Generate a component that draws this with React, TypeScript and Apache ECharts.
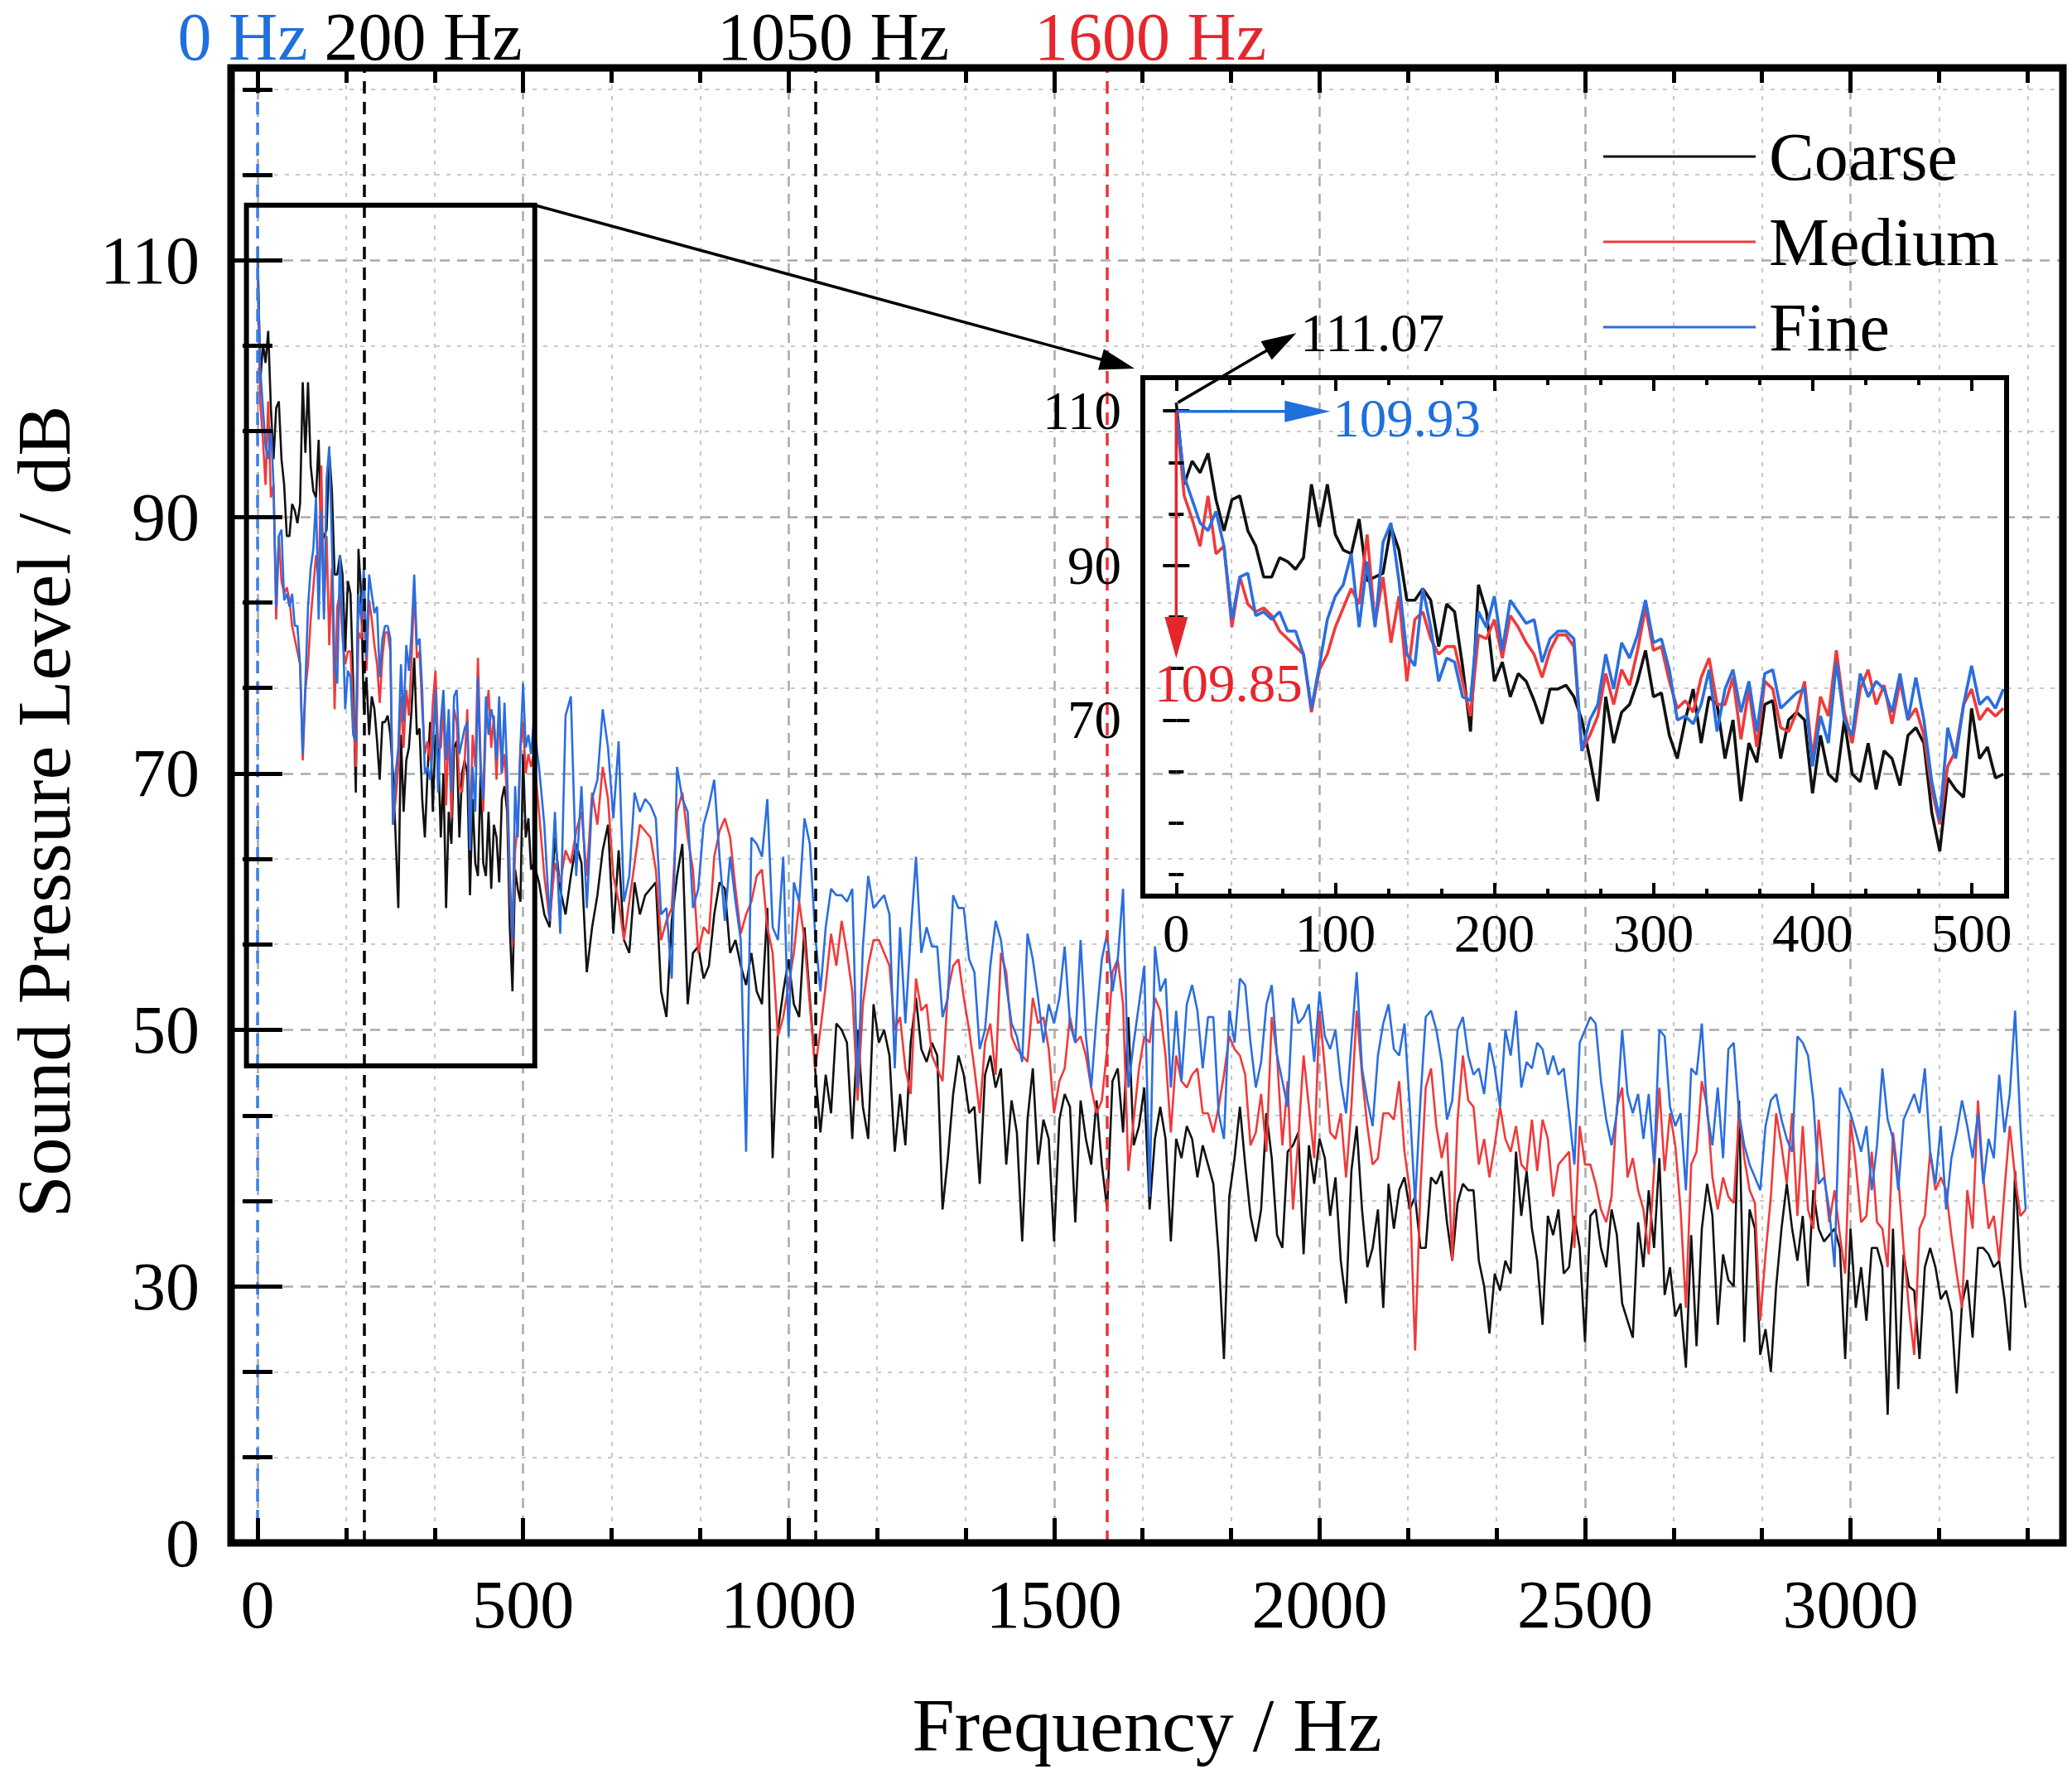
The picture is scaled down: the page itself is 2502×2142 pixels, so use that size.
import React, { useEffect, useRef } from 'react';
import * as echarts from 'echarts';

// 畫布尺寸與字體
const W = 2502;
const H = 2142;
const FONT = 'Liberation Serif';

// 頻率取樣網格：0–520 Hz 每 5 Hz（放大圖），530–3330 Hz 每 10 Hz
const lowStartHz = 0;
const lowStepHz = 5;
const highStartHz = 530;
const highStepHz = 10;

// Coarse 網格，0–520 Hz
const coarseLow = [
  111.07, 100.5, 103.5, 102.0, 104.5, 98.5, 94.5, 98.5, 99.0, 94.5,
  92.5, 88.5, 88.5, 91.0, 90.5, 89.5, 91.0, 100.5, 95.0, 100.5,
  94.0, 92.0, 91.5, 96.0, 88.0, 88.5, 89.0, 95.0, 92.0, 85.5,
  85.5, 87.0, 85.5, 79.5, 85.0, 84.0, 77.0, 68.5, 87.5, 84.0,
  75.0, 77.5, 73.0, 76.0, 75.0, 72.5, 69.5, 74.0, 74.0, 74.5,
  73.0, 70.0, 65.0, 59.5, 73.0, 67.0, 71.0, 72.0, 75.0, 79.0,
  73.0, 73.5, 68.0, 65.0, 70.0, 74.0, 67.0, 73.0, 72.0, 65.0,
  70.0, 59.5, 67.0, 64.5, 72.0, 72.5, 65.0, 70.0, 71.0, 70.0,
  60.5, 68.0, 63.0, 62.0, 70.0, 63.0, 62.0, 67.0, 61.0, 66.0,
  65.0, 61.5, 68.0, 69.0, 67.0, 58.0, 53.0, 62.5, 61.0, 60.0,
  71.5, 65.0, 66.5, 62.5, 63.0,
];
// Medium 網格，0–520 Hz
const mediumLow = [
  109.85, 99.0, 96.0, 92.5, 99.0, 91.5, 92.5, 82.0, 88.5, 85.0,
  84.0, 84.5, 83.5, 81.5, 80.5, 79.5, 78.5, 71.0, 76.5, 78.5,
  82.0, 84.5, 87.0, 85.0, 94.0, 82.5, 88.5, 80.0, 86.0, 75.0,
  83.0, 84.0, 80.5, 78.5, 79.5, 79.5, 75.0, 70.5, 81.0, 80.5,
  83.0, 78.0, 83.5, 82.0, 80.0, 78.5, 75.5, 79.0, 81.0, 81.0,
  79.5, 66.0, 68.0, 70.5, 76.0, 72.0, 76.5, 74.5, 79.0, 84.5,
  79.0, 79.5, 75.0, 71.5, 72.5, 71.0, 75.5, 78.0, 72.0, 72.0,
  75.5, 67.5, 74.0, 66.5, 75.0, 74.0, 69.0, 68.5, 71.0, 75.0,
  65.0, 73.0, 70.5, 79.0, 71.0, 67.0, 74.0, 76.5, 72.0, 74.5,
  69.5, 75.0, 70.0, 71.5, 68.0, 61.0, 56.5, 64.0, 66.0, 72.0,
  74.0, 70.0, 71.5, 70.5, 71.5,
];
// Fine 網格，0–520 Hz
const fineLow = [
  109.93, 101.5, 98.5, 95.5, 94.5, 97.0, 92.5, 83.0, 88.5, 89.0,
  83.5, 84.0, 83.0, 84.0, 81.5, 81.5, 78.5, 71.5, 77.0, 83.0,
  86.0, 87.5, 91.5, 82.0, 90.5, 82.0, 93.0, 95.5, 88.0, 78.5,
  77.0, 87.0, 82.0, 75.0, 78.0, 77.5, 73.0, 72.5, 84.0, 82.0,
  86.0, 79.0, 85.5, 84.0, 82.5, 83.0, 77.5, 80.5, 81.5, 81.5,
  80.5, 66.0, 70.0, 72.0, 78.5, 74.0, 80.0, 78.0, 81.0, 85.5,
  80.0, 80.5, 76.5, 70.0, 70.5, 69.5, 72.0, 76.5, 68.5, 74.0,
  76.5, 71.0, 75.0, 68.5, 76.0, 76.5, 71.5, 72.5, 73.5, 74.0,
  64.0, 70.5, 67.0, 77.5, 70.0, 68.0, 76.0, 73.0, 75.0, 74.0,
  71.0, 76.0, 70.0, 75.5, 70.0, 62.0, 57.0, 69.0, 65.0, 72.0,
  77.0, 72.0, 73.0, 71.5, 74.0,
];

// Coarse 網格，530–3330 Hz
const coarseHigh = [
  61.5, 59, 58, 65, 61, 59, 62, 64.5, 63, 54.5,
  58, 60.5, 64, 66, 57.5, 64, 57, 56, 61.5, 59,
  60.5, 61, 61.5, 53, 51, 58.5, 62, 64.5, 52, 56,
  56.5, 54, 55, 59, 61.5, 61, 56, 57, 55, 53.5,
  56, 53, 52, 59.5, 40, 50, 53, 55.5, 52, 51,
  58, 52.5, 47, 42, 46.5, 43.5, 50.5, 50, 49, 41.5,
  50, 44, 41.5, 52, 49, 50, 48, 40.5, 45, 41,
  49, 52.5, 48.5, 47.5, 49, 48, 36, 40, 45, 48,
  46.5, 43.5, 44, 38, 46.5, 48, 45.5, 47, 39.5, 44.5,
  42, 33.5, 43, 47, 39.5, 43, 41.5, 33.5, 43, 45,
  44, 35, 44.5, 41.5, 39.5, 44.5, 39.5, 36, 46, 47,
  42, 51, 41, 42.5, 45.5, 36, 41.5, 44, 41.5, 33.5,
  41.5, 40, 42.5, 41.5, 38.5, 41, 39.5, 38, 32.5, 21.5,
  37, 40, 44, 39.5, 35.5, 33.5, 36, 43.5, 40, 34,
  33, 40.5, 41, 42, 32.5, 41, 38, 41.5, 40, 35.5,
  38.5, 32, 28, 39, 42.5, 36, 31.5, 33, 36, 27.5,
  38, 34.5, 37.5, 38.5, 36, 37, 33, 33, 38.5, 38,
  39, 35, 32, 36.5, 38, 37.5, 37.5, 32, 30, 24.5,
  31, 29.5, 32, 31, 40.5, 35.5, 39, 34.5, 32, 25.5,
  35.5, 34, 36, 31, 31.5, 35.5, 33, 23.5, 35.5, 36,
  33, 31.5, 36, 34, 28, 26, 24, 35, 31.5, 37.5,
  33, 40, 29, 31.5, 26.5, 28, 20.5, 34, 23, 34.5,
  38, 35.5, 25.5, 32.5, 30.5, 30, 44.5, 23.5, 36, 34.5,
  22, 25, 20, 30, 34.5, 38, 34.5, 32, 35.5, 30,
  37.5, 34.5, 33.5, 34, 34.5, 33, 21.5, 34.5, 27.5, 31.5,
  26, 33, 33, 31.5, 15, 34.5, 18, 32.5, 30, 29.5,
  21.5, 31.5, 33, 31.5, 28.5, 29.5, 27, 17.5, 28, 30.5,
  24, 33, 33, 32.5, 31.5, 32, 28.5, 22.5, 39, 31.5,
  27.5,
];
// Medium 網格，530–3330 Hz
const mediumHigh = [
  67, 62, 58.5, 63, 61.5, 64, 63, 65.5, 67, 62,
  68.5, 66, 70.5, 68, 62, 60, 57, 60, 63, 66,
  65.5, 65, 62.5, 57, 58.5, 59.5, 67, 68.5, 65, 62.5,
  56, 58, 57.5, 63.5, 65.5, 66.5, 65, 61, 57.5, 59,
  60, 62, 62.5, 58, 56, 49.5, 51, 53.5, 56, 60,
  57, 52, 47, 50, 53.5, 57.5, 55, 58.5, 56, 53,
  44.5, 52, 55, 57, 57, 56, 55, 50, 51, 47,
  45, 54, 51.5, 52, 48, 47, 46, 53, 55, 55.5,
  52.5, 50, 47, 43.5, 49, 50.5, 46.5, 56, 54.5, 49.5,
  48.5, 48, 47.5, 52.5, 50.5, 51, 48.5, 43.5, 46, 47,
  51, 49, 49.5, 48, 45.5, 43.5, 44.5, 48.5, 54.5, 55.5,
  52, 39, 43, 47, 49.5, 49, 52.5, 51.5, 48, 42,
  48, 46, 45.5, 46.5, 47, 43.5, 43.5, 42, 44, 46.5,
  49.5, 48.5, 48, 46.5, 41, 42, 45, 40.5, 51, 48,
  41, 46, 36, 41.5, 48, 44, 40, 51.5, 47, 42,
  41.5, 43.5, 38.5, 44, 51.5, 46.5, 42.5, 39.5, 40, 43.5,
  43.5, 43, 46, 40.5, 37.5, 22.5, 37.5, 45.5, 47, 42.5,
  40, 42, 32, 43, 48, 44.5, 44, 39.5, 41.5, 38.5,
  41, 44, 41.5, 40.5, 42.5, 39.5, 39, 43, 39, 43,
  41.5, 37, 39.5, 40, 40.5, 33, 42.5, 39.5, 39.5, 38,
  36, 35, 37, 44, 45.5, 38.5, 40, 37.5, 36, 32.5,
  39, 45.5, 39, 43.5, 41, 36, 27.5, 39.5, 40.5, 46,
  44, 38.5, 36, 38.5, 37, 36.5, 43.5, 40, 37.5, 36.5,
  26, 32.5, 37, 43.5, 41, 38, 43.5, 35.5, 42.5, 36,
  34.5, 43, 39, 35, 37.5, 34, 31, 43, 39.5, 35,
  35.5, 40.5, 35, 34.5, 31.5, 42, 38.5, 33, 27.5, 22,
  34.5, 35.5, 40.5, 37.5, 38.5, 37.5, 34, 31, 27.5, 37.5,
  34.5, 44.5, 38.5, 34.5, 35.5, 32, 37.5, 42.5, 38.5, 35.5,
  36,
];
// Fine 網格，530–3330 Hz
const fineHigh = [
  70.5, 66, 58.5, 67, 57.5, 74.5, 76, 62, 69, 59.5,
  68, 69.5, 75, 72, 66.5, 72.5, 60, 62, 68.5, 67,
  68, 67.5, 66.5, 59, 59.5, 54, 70.5, 68, 67, 59.5,
  61, 66, 67.5, 69.5, 63.5, 58.5, 63.5, 60, 57, 40.5,
  65, 64.5, 63.5, 68, 58, 57, 63.5, 49.5, 61.5, 60,
  66.5, 64.5, 57.5, 53, 58, 61, 60.5, 60.5, 60, 61,
  45.5, 56.5, 62, 59.5, 60, 60.5, 59, 47, 58, 50.5,
  57.5, 63.5, 56, 58, 56.5, 56.5, 51, 52.5, 60.5, 59.5,
  59.5, 55.5, 54.5, 48.5, 50, 55, 58.5, 57, 53.5, 50.5,
  49.5, 47.5, 57.5, 55.5, 52.5, 49, 52, 50.5, 52.5, 56.5,
  50.5, 49, 57, 49.5, 45.5, 51, 55.5, 57.5, 53, 55.5,
  61, 45.5, 49, 52, 55, 37, 56.5, 53, 54, 45.5,
  51.5, 46, 52, 53.5, 51.5, 47, 51, 51, 43.5, 41.5,
  51.5, 49, 54, 53.5, 49, 45.5, 47.5, 52, 53.5, 48,
  46, 44, 52.5, 50.5, 51, 52, 47.5, 53, 49.5, 48.5,
  50, 46, 43.5, 49, 54.5, 47, 44.5, 42.5, 48, 50.5,
  52, 48.5, 48, 50.5, 44, 36.5, 44.5, 51, 51.5, 50,
  47.5, 43, 44.5, 50, 51, 48, 46.5, 47, 45, 49,
  47, 44, 50, 48, 51.5, 45.5, 47.5, 47, 49, 48.5,
  46.5, 48, 46.5, 47, 43.5, 39.5, 49, 50, 51, 50.5,
  46, 43, 41, 43.5, 50, 45, 43.5, 45, 41.5, 45,
  39.5, 50, 49.5, 44, 42.5, 43.5, 37.5, 47, 46.5, 50.5,
  43.5, 41, 45.5, 40, 48.5, 49, 43.5, 41, 39.5, 38.5,
  37.5, 42.5, 44.5, 45, 43, 41.5, 40.5, 49.5, 49, 48,
  44.5, 38, 38.5, 36, 31.5, 45.5, 44.5, 43.5, 42, 40.5,
  42.5, 37.5, 41, 47, 43, 41.5, 37.5, 43, 44, 45,
  43.5, 47, 40.5, 38, 42.5, 36, 40, 42, 44.5, 42.5,
  40, 43.5, 38, 41.5, 40, 46.5, 42, 45, 51.5, 42.5,
  36,
];

const seriesNames = ['Coarse', 'Medium', 'Fine'];
const seriesColors = ['#111111', '#f03a3a', '#2a6ee0'];

// 主圖刻度
const xMajorTicks = [0, 500, 1000, 1500, 2000, 2500, 3000];
const xMinorTicks = [166.67, 333.33, 666.67, 833.33, 1166.67, 1333.33, 1666.67, 1833.33, 2166.67, 2333.33, 2666.67, 2833.33, 3166.67, 3333.33];
// y 軸在 30 dB 以下壓縮，刻度以軸座標表示
const yMajorTicks = [10, 30, 50, 70, 90, 110];
const yMajorLabels = ['0', '30', '50', '70', '90', '110'];
const yMinorTicks = [16.67, 23.33, 36.67, 43.33, 56.67, 63.33, 76.67, 83.33, 96.67, 103.33, 116.67, 123.33];

// 放大圖刻度
const insetXMajor = [0, 100, 200, 300, 400, 500];
const insetXMinor = [33.33, 66.67, 133.33, 166.67, 233.33, 266.67, 333.33, 366.67, 433.33, 466.67];
const insetYMajor = [70, 90, 110];
const insetYMinor = [50, 56.67, 63.33, 76.67, 83.33, 96.67, 103.33];

// 參考頻率
const refLines = [
  { hz: 0, label: '0 Hz', color: '#3b7fe6', textColor: '#1f6fdc', labelX: 293 },
  { hz: 200, label: '200 Hz', color: '#000000', textColor: '#000000', labelX: 511 },
  { hz: 1050, label: '1050 Hz', color: '#000000', textColor: '#000000', labelX: 1006 },
  { hz: 1600, label: '1600 Hz', color: '#e8323a', textColor: '#e5262d', labelX: 1389 },
];

// 峰值標註
const peakCoarse = 111.07;
const peakMedium = 109.85;
const peakFine = 109.93;

// 版面
const mainGrid = { left: 279, top: 82, width: 2212, height: 1781 };
const mainX = [-50, 3400];
const mainY = [10, 125];
const insetGrid = { left: 1380, top: 456, width: 1043, height: 626 };
const insetX = [-21, 522];
const insetY = [47.2, 114.3];

// 30 dB 以下的壓縮段：0–30 dB 佔 20 個軸單位
const toAxis = (db: number) => (db >= 30 ? db : 30 - ((30 - db) * 2) / 3);

const lowHz = coarseLow.map((_, i) => lowStartHz + i * lowStepHz);
const highHz = coarseHigh.map((_, i) => highStartHz + i * highStepHz);

function pairs(hz: number[], values: number[], map: (v: number) => number = (v) => v) {
  return values.map((v, i) => [hz[i], map(v)]);
}

function tickAxis(
  gridIndex: number,
  range: number[],
  position: string,
  ticks: number[],
  length: number,
  width: number,
  label?: any,
) {
  return {
    type: 'value',
    gridIndex,
    min: range[0],
    max: range[1],
    position,
    z: 6,
    axisLine: { show: false },
    splitLine: { show: false },
    axisTick: {
      show: true,
      inside: true,
      length,
      customValues: ticks,
      lineStyle: { color: '#000', width },
    },
    axisLabel: label
      ? {
          show: true,
          customValues: ticks,
          color: '#000',
          fontFamily: FONT,
          formatter: (v: number) => String(v),
          ...label,
        }
      : { show: false },
  };
}

function buildOption(): echarts.EChartsOption {
  const lowSets = [coarseLow, mediumLow, fineLow];
  const highSets = [coarseHigh, mediumHigh, fineHigh];

  const majorGrid = { color: '#a9a9a9', width: 2.5, type: [12, 9] };
  const minorGrid = { color: '#c9c9c9', width: 2.2, type: [5, 8] };

  const gridLines = [
    ...xMajorTicks.map((v) => ({ xAxis: v, lineStyle: majorGrid })),
    ...xMinorTicks.map((v) => ({ xAxis: v, lineStyle: minorGrid })),
    ...yMajorTicks.slice(1).map((v) => ({ yAxis: v, lineStyle: majorGrid })),
    ...yMinorTicks.map((v) => ({ yAxis: v, lineStyle: minorGrid })),
  ];

  const mainSeries = seriesNames.map((name, k) => ({
    name,
    type: 'line',
    xAxisIndex: 0,
    yAxisIndex: 0,
    symbol: 'none',
    showSymbol: false,
    z: 2,
    lineStyle: { color: seriesColors[k], width: 2.6 },
    itemStyle: { color: seriesColors[k] },
    data: [...pairs(lowHz, lowSets[k], toAxis), ...pairs(highHz, highSets[k], toAxis)],
  }));

  const insetSeries = seriesNames.map((name, k) => ({
    name,
    type: 'line',
    xAxisIndex: 4,
    yAxisIndex: 4,
    symbol: 'none',
    showSymbol: false,
    z: 4,
    lineStyle: { color: seriesColors[k], width: 3.6 },
    itemStyle: { color: seriesColors[k] },
    data: pairs(lowHz, lowSets[k]),
  }));

  return {
    animation: false,
    backgroundColor: '#ffffff',
    textStyle: { fontFamily: FONT },
    grid: [
      { ...mainGrid, show: false },
      { ...insetGrid, show: false },
    ],
    xAxis: [
      tickAxis(0, mainX, 'bottom', xMajorTicks, 30, 5, { fontSize: 82, margin: 33 }),
      tickAxis(0, mainX, 'bottom', xMinorTicks, 18, 5),
      tickAxis(0, mainX, 'top', xMajorTicks, 30, 5),
      tickAxis(0, mainX, 'top', xMinorTicks, 18, 5),
      tickAxis(1, insetX, 'bottom', insetXMajor, 16, 4, { fontSize: 65, margin: 12 }),
      tickAxis(1, insetX, 'bottom', insetXMinor, 9, 4),
      tickAxis(1, insetX, 'top', insetXMajor, 16, 4),
      tickAxis(1, insetX, 'top', insetXMinor, 9, 4),
    ] as any,
    yAxis: [
      tickAxis(0, mainY, 'left', yMajorTicks, 30, 5, {
        fontSize: 82,
        margin: 38,
        formatter: (v: number) => yMajorLabels[yMajorTicks.indexOf(v)] ?? '',
      }),
      tickAxis(0, mainY, 'left', yMinorTicks, 18, 5),
      tickAxis(0, mainY, 'right', yMajorTicks, 30, 5),
      tickAxis(0, mainY, 'right', yMinorTicks, 18, 5),
      tickAxis(1, insetY, 'left', insetYMajor, 16, 4, { fontSize: 65, margin: 26 }),
      tickAxis(1, insetY, 'left', insetYMinor, 9, 4),
      tickAxis(1, insetY, 'right', insetYMajor, 16, 4),
      tickAxis(1, insetY, 'right', insetYMinor, 9, 4),
    ] as any,
    legend: {
      data: seriesNames,
      orient: 'vertical',
      left: 1931,
      top: 139,
      icon: 'rect',
      itemWidth: 184,
      itemHeight: 3,
      itemGap: 13,
      z: 10,
      textStyle: {
        fontSize: 82,
        fontFamily: FONT,
        color: '#000',
        lineHeight: 90,
        padding: [0, 0, 0, 11],
      },
    },
    series: [
      {
        name: 'gridlines',
        type: 'line',
        xAxisIndex: 0,
        yAxisIndex: 0,
        data: [],
        markLine: {
          silent: true,
          z: 1,
          symbol: ['none', 'none'],
          label: { show: false },
          animation: false,
          data: gridLines as any,
        },
      },
      ...mainSeries,
      {
        name: 'reflines',
        type: 'line',
        xAxisIndex: 0,
        yAxisIndex: 0,
        data: [],
        markLine: {
          silent: true,
          z: 3,
          symbol: ['none', 'none'],
          label: { show: false },
          animation: false,
          data: refLines.map((r) => ({
            xAxis: r.hz,
            lineStyle: { color: r.color, width: 3.5, type: [15, 10] },
          })) as any,
        },
      },
      ...insetSeries,
    ] as any,
  };
}

function arrow(
  x1: number,
  y1: number,
  x2: number,
  y2: number,
  color: string,
  lineWidth: number,
  headLen: number,
  headHalf: number,
) {
  const dx = x2 - x1;
  const dy = y2 - y1;
  const len = Math.hypot(dx, dy);
  const ux = dx / len;
  const uy = dy / len;
  const bx = x2 - ux * headLen;
  const by = y2 - uy * headLen;
  const px = -uy;
  const py = ux;
  return [
    { type: 'line', z: 12, shape: { x1, y1, x2: bx + ux * 2, y2: by + uy * 2 }, style: { stroke: color, lineWidth } },
    {
      type: 'polygon',
      z: 12,
      shape: {
        points: [
          [x2, y2],
          [bx + px * headHalf, by + py * headHalf],
          [bx - px * headHalf, by - py * headHalf],
        ],
      },
      style: { fill: color },
    },
  ];
}

function text(str: string, x: number, y: number, size: number, color: string, align = 'center', extra: any = {}) {
  return {
    type: 'text',
    z: 12,
    x,
    y,
    ...extra,
    style: {
      text: str,
      fill: color,
      font: `${size}px "${FONT}"`,
      textAlign: align,
      textVerticalAlign: 'middle',
      lineHeight: Math.round(size * 0.92),
    },
  };
}

function buildGraphics(chart: echarts.ECharts) {
  const main = (p: number[]) => chart.convertToPixel({ xAxisIndex: 0, yAxisIndex: 0 }, p) as number[];
  const inset = (p: number[]) => chart.convertToPixel({ xAxisIndex: 4, yAxisIndex: 4 }, p) as number[];

  // 主圖中的放大框
  const r1 = main([insetX[0], toAxis(insetY[1])]);
  const r2 = main([insetX[1], toAxis(insetY[0])]);
  const insetCorner = inset([insetX[0], insetY[1]]);

  const pc = inset([0, peakCoarse]);
  const pf = inset([0, peakFine]);
  const pm = inset([0, peakMedium]);

  const els: any[] = [
    {
      type: 'rect',
      z: 11,
      shape: { x: mainGrid.left, y: mainGrid.top, width: mainGrid.width, height: mainGrid.height },
      style: { fill: 'none', stroke: '#000', lineWidth: 9 },
    },
    {
      type: 'rect',
      z: 11,
      shape: { x: insetGrid.left, y: insetGrid.top, width: insetGrid.width, height: insetGrid.height },
      style: { fill: 'none', stroke: '#000', lineWidth: 6 },
    },
    {
      type: 'rect',
      z: 11,
      shape: { x: r1[0], y: r1[1], width: r2[0] - r1[0], height: r2[1] - r1[1] },
      style: { fill: 'none', stroke: '#000', lineWidth: 6 },
    },
    ...arrow(r2[0], r1[1], insetCorner[0] - 10, insetCorner[1] - 11, '#000', 3.5, 42, 13),
    // 峰值箭頭
    ...arrow(pc[0] + 2, pc[1], pc[0] + 145, pc[1] - 84, '#000', 3.5, 42, 13),
    ...arrow(pf[0], pf[1], pf[0] + 186, pf[1], '#1f6fdc', 3.5, 55, 13),
    ...arrow(pm[0], pm[1], pm[0], 795, '#e5262d', 3.5, 50, 14),
    text('111.07', pc[0] + 150, pc[1] - 84, 65, '#000', 'left'),
    text('109.93', pf[0] + 189, pf[1] + 8, 65, '#1f6fdc', 'left'),
    text('109.85', pm[0] + 63, 825, 65, '#e5262d', 'center'),
    // 參考頻率標籤
    ...refLines.map((r) => text(r.label, r.labelX, 44, 82, r.textColor)),
    // 軸標題
    text('Frequency / Hz', 1385, 2083, 92, '#000'),
    text('Sound Pressure Level / dB', 53, 980, 92, '#000', 'center', { rotation: Math.PI / 2 }),
  ];
  return els;
}

export default function App() {
  const chartRef = useRef<HTMLDivElement>(null);

  useEffect(() => {
    document.body.style.margin = '0';
    if (!chartRef.current) return;
    const chart = echarts.init(chartRef.current, undefined, { renderer: 'svg' });
    chart.setOption(buildOption());
    chart.setOption({ graphic: { elements: buildGraphics(chart) } } as any);
    return () => {
      chart.dispose();
    };
  }, []);

  return <div ref={chartRef} style={{ width: W, height: H }} />;
}
